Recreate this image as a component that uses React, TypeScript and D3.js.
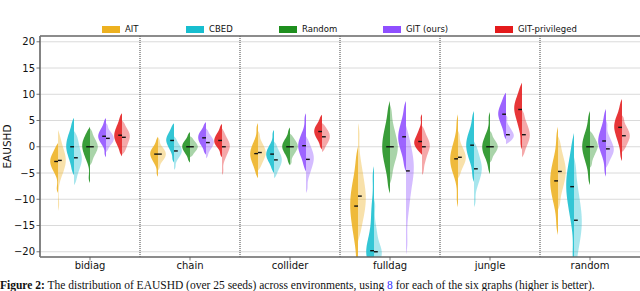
import React from 'react';
import * as d3 from 'd3';

const categories = ['bidiag', 'chain', 'collider', 'fulldag', 'jungle', 'random'];
const methods = ['AIT', 'CBED', 'Random', 'GIT (ours)', 'GIT-privileged'];
const colors = ['#EDB120', '#17BECF', '#1E8F1E', '#8F4FFF', '#E41A1C'];
const yTicks = [-20, -15, -10, -5, 0, 5, 10, 15, 20];

// Per method: one list of seed values per category; "dark" = left half, "light" = right half
const aitDark = [
  [-8.8, -4.6, -3.5, -2.8, -2.2, -1.2, 0.7],
  [-5.7, -3, -2, -1.4, -0.9, -0.2, 1.9],
  [-6, -3.5, -2.2, -1.3, -0.6, 0.8, 4.5],
  [-25, -17, -13.5, -11.3, -9.5, -6.5, 0],
  [-11.5, -5, -3.3, -2.3, -1.3, 0.8, 6.2],
  [-16.8, -10.5, -8, -6.5, -5, -2.5, 3.8],
];
const aitLight = [
  [-12.2, -5, -3.3, -2.6, -1.8, 0, 3.2],
  [-4.5, -2.6, -1.9, -1.4, -0.9, -0.2, 1.8],
  [-4.5, -2.8, -1.8, -1.1, -0.5, 0.6, 3],
  [-18, -13.5, -11, -9.4, -7.5, -4, 4.5],
  [-6, -3.8, -2.7, -2, -1.3, 0, 3],
  [-12, -8, -6, -4.7, -3.5, -1.5, 2],
];
const cbedDark = [
  [-5.4, -2.5, -0.8, 0, 1.2, 2.6, 5.5],
  [-3, -0.5, 0.6, 1.2, 1.8, 2.7, 4.5],
  [-5, -3, -2, -1.4, -0.8, 0.3, 3.2],
  [-24, -21.5, -20.5, -19.8, -17, -12, -3.7],
  [-6.7, -2.5, -0.8, 0.3, 1.3, 3, 6.8],
  [-23, -13, -9.5, -7.6, -5.8, -3, 2.6],
];
const cbedLight = [
  [-7.3, -4.5, -3, -2.1, -1, 0.8, 3],
  [-4.4, -2.2, -1.3, -0.8, -0.3, 0.5, 2],
  [-6, -4.2, -3.2, -2.5, -1.8, -0.8, 1],
  [-24, -21.5, -20.6, -20, -19, -16, -10],
  [-11.5, -7, -5.2, -4.2, -3.2, -1.5, 1],
  [-25, -19, -16, -14, -12, -8.5, -2],
];
const randomDark = [
  [-6.9, -2.3, -0.8, 0, 0.8, 1.8, 3.8],
  [-3, -1.3, -0.5, 0, 0.5, 1.2, 2.8],
  [-3.5, -1.5, -0.5, 0, 0.6, 1.5, 3.65],
  [-8.9, -4, -1.5, 0, 1.5, 4, 8.7],
  [-5.2, -2, -0.7, 0, 0.8, 2.3, 6.6],
  [-7.3, -3, -1, 0, 1, 2.8, 6.8],
];
const randomLight = [
  [-3.5, -1.6, -0.6, 0, 0.6, 1.6, 3.5],
  [-2, -1, -0.4, 0, 0.4, 1, 2],
  [-3.5, -1.4, -0.5, 0, 0.5, 1.2, 2.5],
  [-7, -3, -1, 0, 1.2, 3.5, 8],
  [-3, -1.3, -0.5, 0, 0.5, 1.3, 3],
  [-4, -1.8, -0.6, 0, 0.6, 1.5, 3],
];
const gitDark = [
  [-2, 0.6, 1.5, 2, 2.6, 3.5, 5.5],
  [-1.5, 0.3, 1.1, 1.7, 2.3, 3, 4.7],
  [-4.7, -2, -0.6, 0.2, 1, 2.5, 6.4],
  [-4.7, -1, 0.8, 1.9, 3, 5, 8.7],
  [1.4, 4, 5.4, 6.2, 7, 8.2, 10.3],
  [-5.7, -1.5, 0.3, 1.1, 2, 3.8, 7.2],
];
const gitLight = [
  [-1, 0.5, 1.1, 1.6, 2.1, 2.8, 4.5],
  [-2.2, -0.5, 0.3, 0.8, 1.3, 2, 3.5],
  [-8.8, -5, -3.3, -2.4, -1.5, -0.3, 2],
  [-20.5, -11, -6.5, -4.6, -3, -0.5, 4],
  [0.5, 1.3, 1.9, 2.3, 2.8, 3.7, 6],
  [-4, -2, -1, -0.4, 0.3, 1.6, 5],
];
const gitPrivDark = [
  [-1.8, 0.4, 1.5, 2.2, 3.0, 4.2, 6.4],
  [-2, 0, 0.7, 1.2, 1.8, 2.6, 4.35],
  [-0.5, 1.4, 2.3, 2.9, 3.5, 4.3, 6.1],
  [-1.5, -0.2, 0.5, 1, 1.7, 3, 6.2],
  [-0.5, 4, 6.1, 7.1, 8, 9.4, 12.2],
  [-2.7, 1, 2.8, 3.7, 4.6, 6, 9.1],
];
const gitPrivLight = [
  [-1.5, 0, 1.1, 1.8, 2.5, 3.3, 5],
  [-5.4, -2, -0.6, 0, 0.6, 1.5, 3.5],
  [-1, 0.5, 1.3, 1.9, 2.5, 3.2, 4.5],
  [-5.4, -2.5, -0.8, 0, 0.7, 1.8, 4],
  [-2, 0.3, 1.5, 2.3, 3.2, 4.5, 7],
  [-1, 0.5, 1.5, 2.1, 2.8, 3.8, 6],
];

const darkSeries = [aitDark, cbedDark, randomDark, gitDark, gitPrivDark];
const lightSeries = [aitLight, cbedLight, randomLight, gitLight, gitPrivLight];

const W = 640;
const H = 291;
const M = { left: 40, right: 640, top: 36, bottom: 257 };
const HALF_W = 7.8;
const legendX = [102, 186, 279, 383, 495];

function halfProfile(vals: number[]) {
  const n = vals.length;
  const sd = d3.deviation(vals) || 1;
  const bw = 0.55 * sd * Math.pow(n, -0.2);
  const lo = d3.min(vals)!;
  const hi = d3.max(vals)!;
  const mid = (lo + hi) / 2;
  const half = (hi - lo) / 2 || 1;
  const steps = 80;
  const pts = d3.range(steps + 1).map((i) => {
    const y = lo + ((hi - lo) * i) / steps;
    let dens = 0;
    for (const v of vals) dens += Math.exp(-0.5 * ((y - v) / bw) ** 2);
    const u = Math.abs((y - mid) / half);
    const env = Math.max(0, 1 - Math.pow(u, 6));
    return { y, w: dens * env };
  });
  const mx = d3.max(pts, (p) => p.w) || 1;
  return pts.map((p) => ({ y: p.y, w: (p.w / mx) * HALF_W }));
}

export default function App() {
  const y = d3.scaleLinear().domain([-21, 21.1]).range([M.bottom, M.top]);
  const xCat = d3.scaleBand<string>().domain(categories).range([M.left, M.right]).padding(0);
  const bw = xCat.bandwidth();
  const xM = d3.scaleBand<string>().domain(methods).range([bw * 0.1, bw * 0.9]).padding(0);
  const fmt = (v: number) => (v < 0 ? '\u2212' + Math.abs(v) : String(v));

  const violins: React.ReactNode[] = [];
  categories.forEach((cat, ci) => {
    methods.forEach((m, mi) => {
      const cx = xCat(cat)! + xM(m)! + xM.bandwidth() / 2;
      const color = colors[mi];
      const dVals = darkSeries[mi][ci];
      const lVals = lightSeries[mi][ci];
      const dProf = halfProfile(dVals);
      const lProf = halfProfile(lVals);
      const areaL = d3
        .area<{ y: number; w: number }>()
        .y((p) => y(p.y))
        .x0(cx)
        .x1((p) => cx - p.w)
        .curve(d3.curveLinear);
      const areaR = d3
        .area<{ y: number; w: number }>()
        .y((p) => y(p.y))
        .x0(cx)
        .x1((p) => cx + p.w)
        .curve(d3.curveLinear);
      const dMed = d3.median(dVals)!;
      const lMed = d3.median(lVals)!;
      violins.push(
        <g key={cat + m}>
          <path d={areaR(lProf)!} fill={color} fillOpacity={0.38} />
          <path d={areaL(dProf)!} fill={color} fillOpacity={0.88} />
          <line x1={cx - 3.8} x2={cx} y1={y(dMed)} y2={y(dMed)} stroke="#111" strokeWidth={1.4} />
          <line x1={cx} x2={cx + 3.8} y1={y(lMed)} y2={y(lMed)} stroke="#111" strokeWidth={1.4} />
        </g>
      );
    });
  });

  return (
    <svg
      width={W}
      height={H}
      style={{ position: 'absolute', left: 0, top: 0, background: '#fff' }}
      fontFamily="DejaVu Sans, sans-serif"
    >
      <defs>
        <clipPath id="plotClip">
          <rect x={M.left} y={M.top} width={M.right - M.left} height={M.bottom - M.top} />
        </clipPath>
      </defs>
      <rect width={W} height={H} fill="#fff" />
      {yTicks.map((t) => (
        <line key={'g' + t} x1={M.left} x2={M.right} y1={y(t)} y2={y(t)} stroke="#dadada" strokeWidth={1} />
      ))}
      <g clipPath="url(#plotClip)">{violins}</g>
      {categories.slice(1).map((c) => (
        <line
          key={'d' + c}
          x1={xCat(c)!}
          x2={xCat(c)!}
          y1={M.top}
          y2={M.bottom}
          stroke="#444"
          strokeWidth={1}
          strokeDasharray="1,1"
        />
      ))}
      <line x1={M.left} x2={M.right} y1={M.top} y2={M.top} stroke="#666" strokeWidth={1.5} />
      <line x1={M.left} x2={M.right} y1={M.bottom} y2={M.bottom} stroke="#666" strokeWidth={1.5} />
      <line x1={M.left} x2={M.left} y1={M.top} y2={M.bottom} stroke="#777" strokeWidth={1.8} />
      {yTicks.map((t) => (
        <g key={'t' + t}>
          <line x1={M.left - 3.5} x2={M.left} y1={y(t)} y2={y(t)} stroke="#555" strokeWidth={0.8} />
          <text x={M.left - 5} y={y(t)} dy="0.35em" textAnchor="end" fontSize={10} fill="#111">
            {fmt(t)}
          </text>
        </g>
      ))}
      <text
        transform={`translate(11,${(M.top + M.bottom) / 2}) rotate(-90)`}
        textAnchor="middle"
        fontSize={10.5}
        fill="#111"
      >
        EAUSHD
      </text>
      {categories.map((c) => {
        const cx = xCat(c)! + bw / 2;
        return (
          <g key={'x' + c}>
            <line x1={cx} x2={cx} y1={M.bottom} y2={M.bottom + 3.5} stroke="#555" strokeWidth={0.8} />
            <text x={cx} y={M.bottom + 12} textAnchor="middle" fontSize={10} fill="#111">
              {c}
            </text>
          </g>
        );
      })}
      {methods.map((m, i) => (
        <g key={'l' + m}>
          <rect x={legendX[i]} y={26} width={18} height={7} fill={colors[i]} />
          <text x={legendX[i] + 23} y={29.5} dy="0.35em" fontSize={8.5} fill="#111">
            {m}
          </text>
        </g>
      ))}
      <text x={0} y={289} fontFamily="Liberation Serif, serif" fontSize={11.5} fill="#111">
        <tspan fontWeight="bold">Figure 2:</tspan>
        <tspan> The distribution of EAUSHD (over 25 seeds) across environments, using </tspan>
        <tspan fill="#3333ff">8</tspan>
        <tspan> for each of the six graphs (higher is better).</tspan>
      </text>
    </svg>
  );
}
